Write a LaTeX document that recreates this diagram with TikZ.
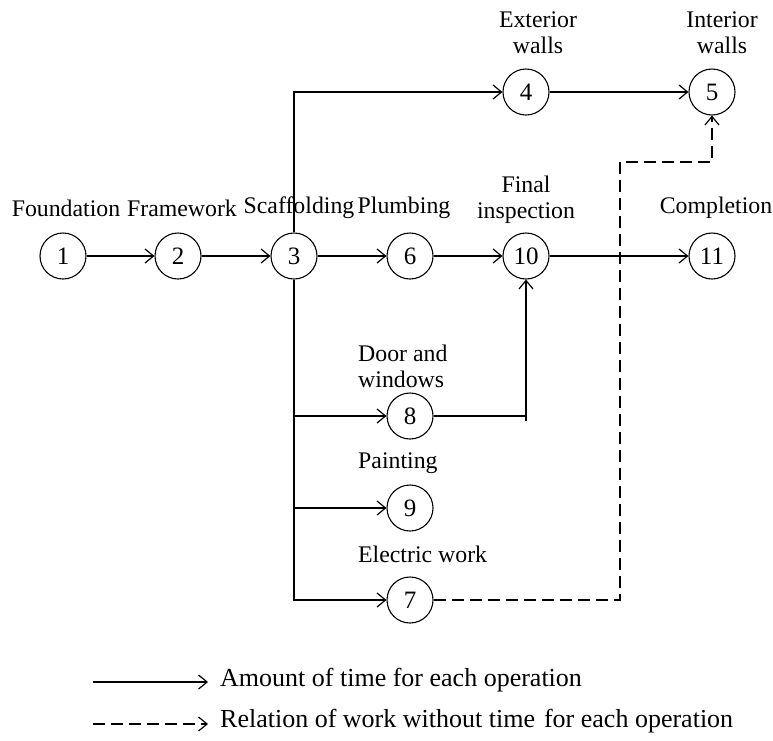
\documentclass[tikz,border=0pt]{standalone}
\usepackage{fontspec}
\setmainfont{Liberation Serif}
\usetikzlibrary{arrows.meta}
\begin{document}
\begin{tikzpicture}[x=1pt,y=-1pt,
  nd/.style={circle,draw,minimum size=46pt,inner sep=0pt,line width=1.1pt,font=\fontsize{25}{26}\selectfont},
  lab/.style={align=center,inner sep=0pt,font=\fontsize{23.8}{26}\selectfont},
  leg/.style={anchor=west,inner sep=0pt,font=\fontsize{26}{28}\selectfont},
  arr/.style={-{Straight Barb[length=8.5pt,width=14pt,line width=1.2pt]},line width=1.1pt},
  dsh/.style={arr,dash pattern=on 12pt off 6pt}]
\useasboundingbox (0,0) rectangle (773,740);
% nodes
\node[nd] (n1) at (63,256) {1};
\node[nd] (n2) at (178,256) {2};
\node[nd] (n3) at (294,256) {3};
\node[nd] (n6) at (410,256) {6};
\node[nd] (n10) at (526,256) {10};
\node[nd] (n11) at (712,256) {11};
\node[nd] (n4) at (526,92) {4};
\node[nd] (n5) at (712,92) {5};
\node[nd] (n8) at (410,416) {8};
\node[nd] (n9) at (410,508) {9};
\node[nd] (n7) at (410,600) {7};
% labels
\node[lab] (l1) at (66,208) {Foundation};
\node[lab] (l2) at (182,208) {Framework};
\node[lab] (l3) at (299,208) {Scaffolding};
\node[lab] (l6) at (404,208) {Plumbing};
\node[lab] (l10) at (526,200) {Final\\inspection};
\node[lab] (l11) at (716,208) {Completion};
\node[lab] (l4) at (538,33) {Exterior\\walls};
\node[lab] (l5) at (722,33) {Interior\\walls};
\node[lab,anchor=west,align=left] (l8) at (358,366) {Door and\\windows};
\node[lab,anchor=west] (l9) at (358,463) {Painting};
\node[lab,anchor=west] (l7) at (358,554) {Electric work};
% connectors
\draw[arr] (n1) -- (n2);
\draw[arr] (n2) -- (n3);
\draw[arr] (n3) -- (n6);
\draw[arr] (n6) -- (n10);
\draw[arr] (n10) -- (n11);
\draw[arr] (n4) -- (n5);
\draw[arr] (n3.north) |- (n4);
\draw[arr] (n3.south) |- (n8);
\draw[arr] (n3.south) |- (n9);
\draw[arr] (n3.south) |- (n7);
\coordinate (t8) at (526,421);
\draw[line width=1.1pt] (n8) -| (t8);
\draw[arr] (t8) -- (n10);
\coordinate (c1) at (620,162);
\draw[dsh] (n7) -| (c1) -| (n5);
% legend
\coordinate (a1) at (93,682);
\coordinate (a2) at (208,682);
\coordinate (b1) at (93,724);
\coordinate (b2) at (208,724);
\draw[arr] (a1) -- (a2);
\draw[dsh] (b1) -- (b2);
\node[leg] (la) at (220,680) {Amount of time for each operation};
\node[leg] (lb) at (220,721) {Relation of work without time\hspace{9pt}for each operation};
\end{tikzpicture}
\end{document}
